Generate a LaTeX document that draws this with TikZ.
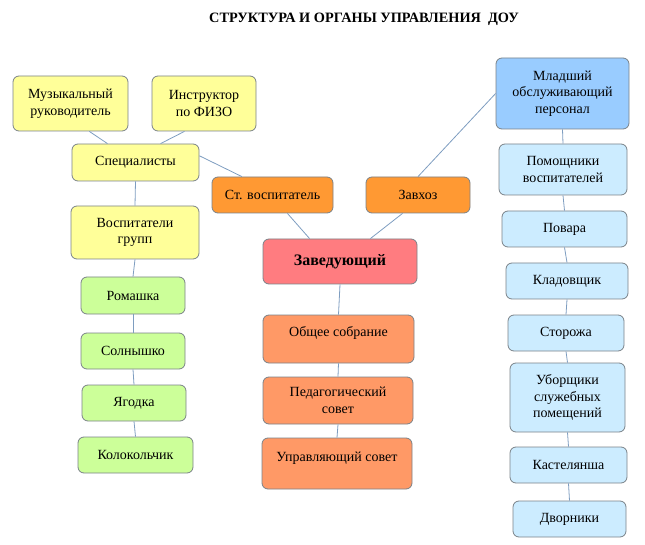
\documentclass[tikz,border=0pt]{standalone}
\usepackage{fontspec}
\setmainfont{LiberationSerif}[Extension=.ttf,UprightFont=*-Regular,BoldFont=*-Bold,ItalicFont=*-Italic,BoldItalicFont=*-BoldItalic]
\definecolor{boxline}{HTML}{7A8288}
\definecolor{linkline}{HTML}{7E9DC0}
\definecolor{yellowfill}{HTML}{FFFF99}
\definecolor{greenfill}{HTML}{CCFF99}
\definecolor{orangefill}{HTML}{FF9933}
\definecolor{salmonfill}{HTML}{FF9966}
\definecolor{headfill}{HTML}{FF7C80}
\definecolor{bluefill}{HTML}{99CCFF}
\definecolor{paleblue}{HTML}{CCECFF}
\tikzstyle{every node}=[align=center,font=\fontsize{14}{16.5}\selectfont]
\tikzstyle{box}=[draw=boxline,thick,rounded corners=6pt,inner sep=1pt]
\tikzstyle{link}=[draw=linkline,line width=0.8pt]

\begin{document}
\begin{tikzpicture}[x=1pt,y=-1pt]
  \useasboundingbox (0,0) rectangle (645,545);
  \node (title) at (364,19) {\fontsize{14.3}{16}\selectfont\bfseries СТРУКТУРА И ОРГАНЫ УПРАВЛЕНИЯ\ \ ДОУ};
  \node[box,fill=yellowfill,minimum width=115pt,minimum height=55pt] (music) at (70.5,103.5) {Музыкальный\\руководитель};
  \node[box,fill=yellowfill,minimum width=104pt,minimum height=55pt] (fizo) at (204,103.5) {Инструктор\\по ФИЗО};
  \node[box,fill=yellowfill,minimum width=127pt,minimum height=37pt] (spec) at (135.5,162.5) {Специалисты};
  \node[box,fill=yellowfill,minimum width=128pt,minimum height=53pt] (teachers) at (135,232.5) {Воспитатели\\групп};
  \node[box,fill=greenfill,minimum width=104pt,minimum height=37pt] (romashka) at (133,295.5) {Ромашка};
  \node[box,fill=greenfill,minimum width=104pt,minimum height=36pt] (solnyshko) at (133,351) {Солнышко};
  \node[box,fill=greenfill,minimum width=104pt,minimum height=36pt] (yagodka) at (134,403) {Ягодка};
  \node[box,fill=greenfill,minimum width=115pt,minimum height=36pt] (kolokol) at (135.5,455) {Колокольчик};
  \node[box,fill=orangefill,minimum width=121pt,minimum height=36pt] (senior) at (272.5,195) {Ст. воспитатель};
  \node[box,fill=orangefill,minimum width=104pt,minimum height=36pt] (zavhoz) at (418,195) {Завхоз};
  \node[box,fill=headfill,minimum width=154pt,minimum height=45pt] (head) at (340,261.5) {\fontsize{16}{18}\selectfont\bfseries Заведующий};
  \node[box,fill=salmonfill,minimum width=151pt,minimum height=48pt,text depth=15pt] (assembly) at (338.5,339) {Общее собрание};
  \node[box,fill=salmonfill,minimum width=150pt,minimum height=47pt] (pedsovet) at (338,400.5) {Педагогический\\совет};
  \node[box,fill=salmonfill,minimum width=150pt,minimum height=51pt,text depth=14pt] (board) at (337,463.5) {Управляющий совет};
  \node[box,fill=bluefill,minimum width=133pt,minimum height=71pt] (staff) at (562.5,93.5) {Младший\\обслуживающий\\персонал};
  \node[box,fill=paleblue,minimum width=128pt,minimum height=51pt] (helpers) at (563,169.5) {Помощники\\воспитателей};
  \node[box,fill=paleblue,minimum width=125pt,minimum height=36pt] (cooks) at (564.5,229) {Повара};
  \node[box,fill=paleblue,minimum width=122pt,minimum height=36pt] (store) at (567,281) {Кладовщик};
  \node[box,fill=paleblue,minimum width=116pt,minimum height=36pt] (guards) at (566,333) {Сторожа};
  \node[box,fill=paleblue,minimum width=115pt,minimum height=69pt] (cleaners) at (567.5,397.5) {Уборщики\\служебных\\помещений};
  \node[box,fill=paleblue,minimum width=117pt,minimum height=36pt] (linen) at (568.5,465) {Кастелянша};
  \node[box,fill=paleblue,minimum width=113pt,minimum height=36pt] (yard) at (569.5,519) {Дворники};
  \draw[link] (music.-56) -- (spec.146);
  \draw[link] (fizo.-125) -- (spec.37);
  \draw[link] (spec.6) -- (senior.149);
  \draw[link] (senior.-51) -- (head.143);
  \draw[link] (zavhoz.-130) -- (head.37);
  \draw[link] (zavhoz.north) -- (staff.west);
  \foreach \a/\b in {spec/teachers,teachers/romashka,romashka/solnyshko,solnyshko/yagodka,yagodka/kolokol,head/assembly,assembly/pedsovet,pedsovet/board,staff/helpers,helpers/cooks,cooks/store,store/guards,guards/cleaners,cleaners/linen,linen/yard}
    \draw[link] (\a.south) -- (\b.north);
\end{tikzpicture}
\end{document}
